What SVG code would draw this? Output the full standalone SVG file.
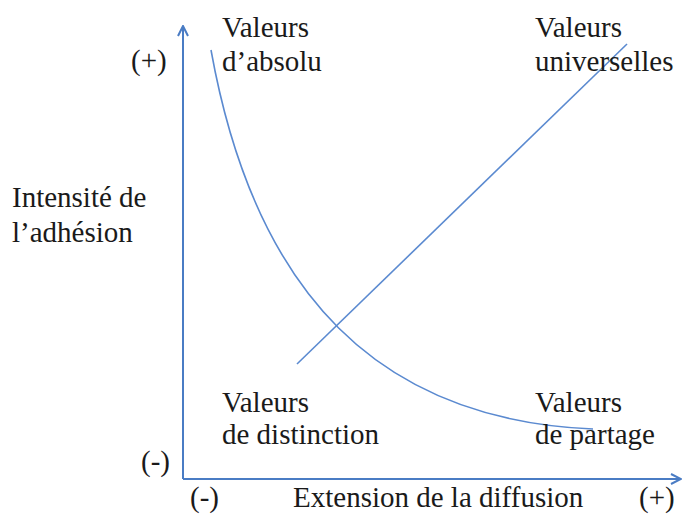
<svg xmlns="http://www.w3.org/2000/svg" width="683" height="516" viewBox="0 0 683 516">
<defs>
<marker id="ah" viewBox="0 0 12 12" refX="11" refY="6" markerWidth="12" markerHeight="12" markerUnits="userSpaceOnUse" orient="auto">
<path d="M1,1 L11,6 L1,11" fill="none" stroke="#4a7cc4" stroke-width="2"/>
</marker>
</defs>
<g id="connectors" fill="none">
<line stroke="#4a7cc4" stroke-width="2" x1="183" y1="479" x2="183" y2="26" marker-end="url(#ah)"/>
<line stroke="#4a7cc4" stroke-width="2" x1="183" y1="479" x2="681" y2="479" marker-end="url(#ah)"/>
<line stroke="#5b8ad0" stroke-width="1.6" x1="297" y1="364" x2="627" y2="44"/>
<path stroke="#5b8ad0" stroke-width="1.6" d="M211,50 C255,295 380,420 593,429"/>
</g>
<g font-family="Times New Roman, Liberation Serif, serif" font-size="29" fill="#1a1a1a">
<g id="absolu"><text x="222" y="37">Valeurs</text><text x="222" y="71">d’absolu</text></g>
<g id="universelles"><text x="535" y="37">Valeurs</text><text x="535" y="71">universelles</text></g>
<g id="distinction"><text x="222" y="412">Valeurs</text><text x="222" y="444">de distinction</text></g>
<g id="partage"><text x="535" y="412">Valeurs</text><text x="535" y="444">de partage</text></g>
<g id="yaxis-label"><text x="12" y="207">Intensité de</text><text x="12" y="242">l’adhésion</text></g>
<g id="ticks">
<text x="131" y="70">(+)</text>
<text x="141" y="471">(-)</text>
<text x="190" y="507">(-)</text>
<text x="639" y="507">(+)</text>
<text x="293" y="507">Extension de la diffusion</text>
</g>
</g>
</svg>
